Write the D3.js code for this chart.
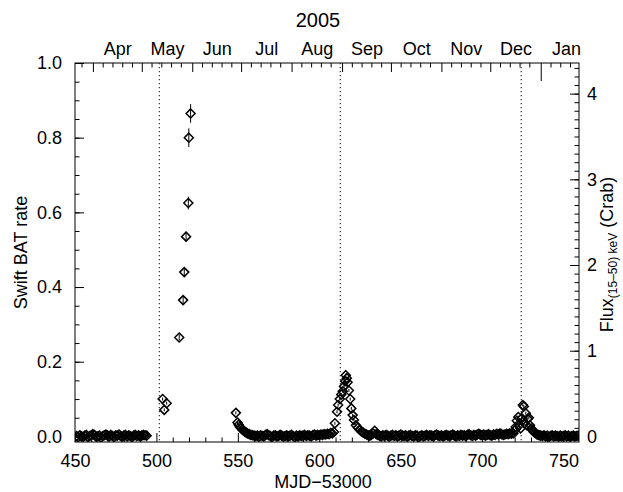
<!DOCTYPE html>
<html lang="en">
<head>
<meta charset="utf-8">
<title>Swift BAT 2005</title>
<script src="https://cdn.jsdelivr.net/npm/d3@7"></script>
<style>
  body { margin: 0; background: #fff; }
  svg { display: block; font-family: "Liberation Sans", Arial, Helvetica, sans-serif; }
</style>
</head>
<body>
<script>
// ---- data (MJD-53000, BAT rate[, error]) ----
var quietSpring = [[451,0.001],[452,-0.002],[453,0.003],[454,0.000],[455,-0.001],[456,0.002],[457,0.004],[458,-0.002],
  [459,0.001],[460,0.003],[461,0.006],[462,0.004],[463,-0.001],[464,0.000],[465,0.002],[466,-0.003],[467,0.001],
  [468,0.003],[469,0.005],[470,0.002],[471,0.000],[472,0.004],[473,0.001],[474,-0.002],[475,0.003],[476,0.002],
  [477,0.005],[478,0.001],[479,-0.001],[480,0.002],[481,0.004],[482,0.000],[483,0.003],[484,0.001],[485,-0.002],
  [486,0.002],[487,0.004],[488,0.001],[489,0.003],[490,0.000],[491,0.002],[492,0.004],[493,0.003],[494,0.002]];
var earlyRise = [[503.8,0.100],[504.8,0.071],[506.3,0.089]];
var giantRise = [[514.0,0.265,0.008],[516.4,0.365,0.010],[517.1,0.440,0.011],[518.2,0.535,0.013],
  [519.6,0.625,0.017],[519.9,0.800,0.025],[521.0,0.865,0.025]];
var giantTail = [[548.8,0.063],[549.8,0.037],[550.5,0.031],[551.2,0.026],[552.0,0.022],[552.8,0.018],[553.6,0.015],
  [554.4,0.012],[555.2,0.010],[556.0,0.008],[557.0,0.006],[558.0,0.004],[559.0,0.003],[560.0,0.002]];
var quietSummer = [[561,0.001],[562,0.002],[563,-0.001],[564,0.003],[565,0.001],[566,0.000],[567,0.004],[568,0.006],
  [569,0.003],[570,0.001],[571,-0.002],[572,0.002],[573,0.003],[574,0.000],[575,0.001],[576,0.004],[577,0.002],
  [578,-0.001],[579,0.001],[580,0.003],[581,0.000],[582,0.002],[583,0.004],[584,0.001],[585,-0.002],[586,0.002],
  [587,0.000],[588,0.003],[589,0.001],[590,0.002],[591,0.004],[592,0.001],[593,0.003],[594,0.002],[595,0.000],
  [596,0.003],[597,0.005],[598,0.002],[599,0.004],[600,0.003],[601,0.005],[602,0.004],[603,0.006],[604,0.005],
  [605,0.007],[606,0.006],[607,0.009],[608,0.008]];
var augBurst = [[609.0,0.012],[609.6,0.035],[610.9,0.066],[611.6,0.084],[612.6,0.100],[613.5,0.112],[614.4,0.121],
  [615.2,0.134],[615.9,0.148],[616.3,0.164],[616.9,0.156],[617.4,0.145],[618.2,0.123],[619.0,0.100],[619.7,0.075],
  [620.5,0.057],[621.3,0.044],[622.5,0.030],[623.7,0.023],[624.8,0.018],[625.9,0.013],[627.0,0.010],[628.0,0.007],
  [629.0,0.005],[630.0,0.003],[631.0,0.002],[632.0,0.004],[633.0,0.008],[634.0,0.015],[635.0,0.006]];
var quietAutumn = [[636,0.004],[637,0.002],[638,0.000],[639,0.003],[640,0.001],[641,0.004],[642,0.002],[643,-0.001],
  [644,0.002],[645,0.004],[646,0.001],[647,0.003],[648,0.000],[649,0.002],[650,0.005],[651,0.002],[652,0.001],
  [653,0.003],[654,-0.001],[655,0.002],[656,0.004],[657,0.001],[658,0.000],[659,0.003],[660,0.002],[661,-0.002],
  [662,0.001],[663,0.003],[664,0.000],[665,0.002],[666,0.004],[667,0.001],[668,0.003],[669,0.002],[670,0.000],
  [671,0.003],[672,0.005],[673,0.002],[674,0.001],[675,0.003],[676,0.000],[677,0.002],[678,0.004],[679,0.002],
  [680,0.001],[681,0.003],[682,0.005],[683,0.002],[684,0.000],[685,0.003],[686,0.001],[687,0.004],[688,0.002],
  [689,0.003],[690,0.001],[691,0.004],[692,0.006],[693,0.003],[694,0.001],[695,0.004],[696,0.002],[697,0.005],
  [698,0.007],[699,0.004],[700,0.003],[701,0.005],[702,0.002],[703,0.004],[704,0.006],[705,0.003],[706,0.002],
  [707,0.005],[708,0.004],[709,0.007],[710,0.005],[711,0.008],[712,0.006],[713,0.004],[714,0.005],[715,0.007],
  [716,0.006],[717,0.008],[718,0.007]];
var decBurst = [[719.2,0.008],[720.0,0.016],[720.6,0.025],[721.3,0.042],[722.2,0.052],[722.8,0.030],[723.6,0.021],
  [724.3,0.048],[725.0,0.084],[725.6,0.080],[726.1,0.035],[726.8,0.062],[727.3,0.030],[728.0,0.047],[728.7,0.050],
  [729.4,0.030],[730.2,0.021],[731.0,0.016],[731.8,0.012],[732.6,0.009],[733.5,0.006],[734.4,0.004],[735.3,0.003]];
var quietWinter = [[736,0.002],[737,0.001],[738,0.003],[739,0.000],[740,0.002],[741,-0.001],[742,0.001],[743,0.003],
  [744,0.000],[745,0.002],[746,0.001],[747,-0.001],[748,0.002],[749,0.000],[750,0.001],[751,0.003],[752,0.000],
  [753,0.002],[754,-0.001],[755,0.001],[756,0.002],[757,0.000],[758,0.001],[759,0.002]];
var quietErr = 0.004;

var periastron = [501.8, 612.9, 724.0];
var mjdTicks = [450, 500, 550, 600, 650, 700, 750];
var rateTicks = [0, 0.2, 0.4, 0.6, 0.8, 1.0];
var crabTicks = [0, 1, 2, 3, 4];
var crabRate = 0.2295;   // BAT rate of 1 Crab (15-50 keV)

var w = 623, h = 492;
var L = 75, R = 579, T = 63, B = 442;
var font = 18;

var points = [].concat(quietSpring, earlyRise, giantRise, giantTail, quietSummer,
                       augBurst, quietAutumn, decBurst, quietWinter);

var x = d3.scaleLinear().domain([450, 759.5]).range([L, R]);
var y = d3.scaleLinear().domain([-0.015, 1.0]).range([B, T]);
var yCrab = d3.scaleLinear().domain(y.domain().map(function(v) { return v / crabRate; })).range([B, T]);

// MJD <-> calendar date for the top axis
var mjdZero = Date.UTC(1858, 10, 17);
function toDate(m) { return new Date(mjdZero + (m + 53000) * 864e5); }
var xTime = d3.scaleUtc().domain(x.domain().map(toDate)).range([L, R]);

var svg = d3.select("body").append("svg")
  .attr("width", w).attr("height", h);
svg.append("rect").attr("width", w).attr("height", h).attr("fill", "white");

function styleAxis(g) {
  g.select(".domain").remove();
  g.selectAll("line").attr("stroke", "#000").attr("stroke-width", 1);
  g.selectAll("text").attr("fill", "#000").attr("font-size", font)
    .attr("font-family", "'Liberation Sans', Arial, sans-serif");
}

// bottom axis
svg.append("g").attr("transform", "translate(0," + B + ")")
  .call(d3.axisBottom(x).tickValues(d3.range(460, 760, 10).filter(function(v) { return v % 50; }))
    .tickSize(-4.5).tickFormat(""))
  .call(styleAxis);
svg.append("g").attr("transform", "translate(0," + B + ")")
  .call(d3.axisBottom(x).tickValues(mjdTicks).tickSize(-9).tickPadding(12).tickFormat(d3.format("d")))
  .call(styleAxis);

// left axis
svg.append("g").attr("transform", "translate(" + L + ",0)")
  .call(d3.axisLeft(y).tickValues(d3.range(0.05, 1.0, 0.05)).tickSize(-4.5).tickFormat(""))
  .call(styleAxis);
svg.append("g").attr("transform", "translate(" + L + ",0)")
  .call(d3.axisLeft(y).tickValues(rateTicks).tickSize(-9).tickPadding(13).tickFormat(d3.format(".1f")))
  .call(styleAxis);

// right axis (Crab)
svg.append("g").attr("transform", "translate(" + R + ",0)")
  .call(d3.axisRight(yCrab).tickValues(d3.range(0.1, 4.35, 0.1)).tickSize(-4.5).tickFormat(""))
  .call(styleAxis);
svg.append("g").attr("transform", "translate(" + R + ",0)")
  .call(d3.axisRight(yCrab).tickValues(crabTicks).tickSize(-9).tickPadding(8).tickFormat(d3.format("d")))
  .call(styleAxis);

// top axis (months of 2005)
var months = d3.utcMonth.range(new Date(Date.UTC(2005, 3, 1)), new Date(Date.UTC(2006, 1, 1)));
var minorDays = [];
d3.utcMonth.range(new Date(Date.UTC(2005, 2, 1)), new Date(Date.UTC(2006, 1, 1))).forEach(function(m) {
  [7, 13, 19, 25].forEach(function(d) {
    var t = new Date(Date.UTC(m.getUTCFullYear(), m.getUTCMonth(), d));
    if (t >= xTime.domain()[0] && t <= xTime.domain()[1]) minorDays.push(t);
  });
});
var midMonths = months.map(function(m) {
  return new Date((m.getTime() + d3.utcMonth.offset(m, 1).getTime()) / 2);
});
svg.append("g").attr("transform", "translate(0," + T + ")")
  .call(d3.axisTop(xTime).tickValues(minorDays).tickSize(-4.5).tickFormat(""))
  .call(styleAxis);
svg.append("g").attr("transform", "translate(0," + T + ")")
  .call(d3.axisTop(xTime).tickValues(months).tickSize(-9).tickFormat(""))
  .call(styleAxis)
  .selectAll(".tick line")
  .attr("y2", function(d) { return d.getUTCMonth() === 0 ? 18 : 9; });
svg.append("g").attr("transform", "translate(0," + T + ")")
  .call(d3.axisTop(xTime).tickValues(midMonths).tickSize(0).tickPadding(8).tickFormat(d3.utcFormat("%b")))
  .call(styleAxis);

// frame
svg.append("rect").attr("x", L).attr("y", T).attr("width", R - L).attr("height", B - T)
  .attr("fill", "none").attr("stroke", "#000").attr("stroke-width", 1);

// periastron lines
svg.selectAll(".peri").data(periastron).enter().append("line")
  .attr("x1", function(d) { return x(d); }).attr("x2", function(d) { return x(d); })
  .attr("y1", T).attr("y2", B)
  .attr("stroke", "#333").attr("stroke-width", 1.2).attr("stroke-dasharray", "1.2,2.8");

// data
svg.append("clipPath").attr("id", "clip").append("rect")
  .attr("x", L).attr("y", T).attr("width", R - L).attr("height", B - T);
var marks = svg.append("g").attr("clip-path", "url(#clip)");

var diamond = {
  draw: function(ctx, size) {
    var r = Math.sqrt(size / 2);
    ctx.moveTo(0, -r); ctx.lineTo(r, 0); ctx.lineTo(0, r); ctx.lineTo(-r, 0); ctx.closePath();
  }
};

marks.selectAll(".err").data(points).enter().append("line")
  .attr("x1", function(d) { return x(d[0]); }).attr("x2", function(d) { return x(d[0]); })
  .attr("y1", function(d) { return y(d[1] - (d[2] || quietErr)); })
  .attr("y2", function(d) { return y(d[1] + (d[2] || quietErr)); })
  .attr("stroke", "#000").attr("stroke-width", 1);

marks.selectAll(".pt").data(points).enter().append("path")
  .attr("d", d3.symbol().type(diamond).size(2 * 4.5 * 4.5))
  .attr("transform", function(d) { return "translate(" + x(d[0]) + "," + y(d[1]) + ")"; })
  .attr("fill", "none").attr("stroke", "#000").attr("stroke-width", 1.5);

// titles
svg.append("text").attr("x", 318).attr("y", 27).attr("text-anchor", "middle")
  .attr("font-size", 20).text("2005");
svg.append("text").attr("x", (L + R) / 2 - 4).attr("y", 488).attr("text-anchor", "middle")
  .attr("font-size", font).text("MJD\u221253000");
svg.append("text").attr("transform", "translate(27," + (T + B) / 2 + ") rotate(-90)")
  .attr("text-anchor", "middle").attr("font-size", font).text("Swift BAT rate");
var flux = svg.append("text").attr("transform", "translate(613," + ((T + B) / 2 + 2) + ") rotate(-90)")
  .attr("text-anchor", "middle").attr("font-size", font);
flux.append("tspan").text("Flux");
flux.append("tspan").attr("font-size", 12).attr("dy", 4).text("(15\u201350) keV");
flux.append("tspan").attr("dy", -4).text(" (Crab)");
</script>
</body>
</html>
